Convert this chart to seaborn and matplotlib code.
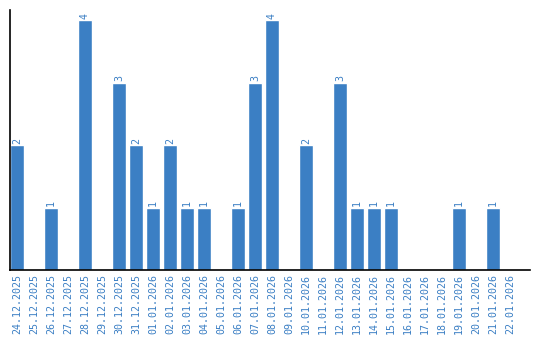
import matplotlib
matplotlib.use("Agg")
import matplotlib.pyplot as plt
import seaborn as sns
import pandas as pd

dates = ["24.12.2025", "25.12.2025", "26.12.2025", "27.12.2025", "28.12.2025",
         "29.12.2025", "30.12.2025", "31.12.2025", "01.01.2026", "02.01.2026",
         "03.01.2026", "04.01.2026", "05.01.2026", "06.01.2026", "07.01.2026",
         "08.01.2026", "09.01.2026", "10.01.2026", "11.01.2026", "12.01.2026",
         "13.01.2026", "14.01.2026", "15.01.2026", "16.01.2026", "17.01.2026",
         "18.01.2026", "19.01.2026", "20.01.2026", "21.01.2026", "22.01.2026"]
counts = [2, 0, 1, 0, 4, 0, 3, 2, 1, 2, 1, 1, 0, 1, 3, 4, 0, 2, 0, 3,
          1, 1, 1, 0, 0, 0, 1, 0, 1, 0]

color = "#3b7fc4"
df = pd.DataFrame({"date": dates, "count": counts})

sns.set_style("white")
fig = plt.figure(figsize=(5.4, 3.4), dpi=100)
ax = fig.add_axes([10/540, 70/340, 520/540, 260/340])
sns.barplot(data=df, x="date", y="count", color=color, width=0.82,
            saturation=1, ax=ax, order=dates)
ax.set_xlim(-0.41, -0.41 + 520/17)
ax.set_ylim(0, 4.16)
ax.set_xlabel("")
ax.set_ylabel("")
ax.set_yticks([])
ax.tick_params(axis="x", length=0, pad=3)
for lab in ax.get_xticklabels():
    lab.set_rotation(90)
    lab.set_color(color)
    lab.set_fontfamily("DejaVu Sans Mono")
    lab.set_fontsize(7.2)
for s in ["top", "right"]:
    ax.spines[s].set_visible(False)
for s in ["left", "bottom"]:
    ax.spines[s].set_color("black")
    ax.spines[s].set_linewidth(1.2)

labels = [str(c) if c > 0 else "" for c in counts]
ax.bar_label(ax.containers[0], labels=labels, rotation=90, color=color,
             fontsize=7.2, family="DejaVu Sans Mono", padding=1)

fig.savefig("out.png", dpi=100)
